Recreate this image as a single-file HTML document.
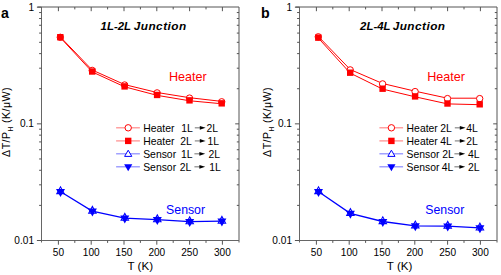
<!DOCTYPE html><html><head><meta charset="utf-8"><style>html,body{margin:0;padding:0;background:#fff;width:501px;height:275px;overflow:hidden}svg{display:block}text{font-family:"Liberation Sans", sans-serif}</style></head><body>
<svg width="501" height="275" viewBox="0 0 501 275">
<rect width="501" height="275" fill="#fff"/>
<g fill="none" stroke-width="1">
<line x1="37.5" y1="7.0" x2="239.0" y2="7.0" stroke="#555"/>
<line x1="239.0" y1="7.0" x2="239.0" y2="242.5" stroke="#555"/>
<line x1="41.5" y1="7.0" x2="41.5" y2="242.5" stroke="#666"/>
<line x1="37.5" y1="240.5" x2="239.0" y2="240.5" stroke="#666"/>
<line x1="58.40" y1="240.5" x2="58.40" y2="244.7" stroke="#555"/>
<line x1="58.40" y1="7.0" x2="58.40" y2="11.2" stroke="#555"/>
<line x1="74.80" y1="240.5" x2="74.80" y2="242.9" stroke="#555"/>
<line x1="74.80" y1="7.0" x2="74.80" y2="9.4" stroke="#555"/>
<line x1="91.20" y1="240.5" x2="91.20" y2="244.7" stroke="#555"/>
<line x1="91.20" y1="7.0" x2="91.20" y2="11.2" stroke="#555"/>
<line x1="107.60" y1="240.5" x2="107.60" y2="242.9" stroke="#555"/>
<line x1="107.60" y1="7.0" x2="107.60" y2="9.4" stroke="#555"/>
<line x1="124.00" y1="240.5" x2="124.00" y2="244.7" stroke="#555"/>
<line x1="124.00" y1="7.0" x2="124.00" y2="11.2" stroke="#555"/>
<line x1="140.40" y1="240.5" x2="140.40" y2="242.9" stroke="#555"/>
<line x1="140.40" y1="7.0" x2="140.40" y2="9.4" stroke="#555"/>
<line x1="156.80" y1="240.5" x2="156.80" y2="244.7" stroke="#555"/>
<line x1="156.80" y1="7.0" x2="156.80" y2="11.2" stroke="#555"/>
<line x1="173.20" y1="240.5" x2="173.20" y2="242.9" stroke="#555"/>
<line x1="173.20" y1="7.0" x2="173.20" y2="9.4" stroke="#555"/>
<line x1="189.60" y1="240.5" x2="189.60" y2="244.7" stroke="#555"/>
<line x1="189.60" y1="7.0" x2="189.60" y2="11.2" stroke="#555"/>
<line x1="206.00" y1="240.5" x2="206.00" y2="242.9" stroke="#555"/>
<line x1="206.00" y1="7.0" x2="206.00" y2="9.4" stroke="#555"/>
<line x1="222.40" y1="240.5" x2="222.40" y2="244.7" stroke="#555"/>
<line x1="222.40" y1="7.0" x2="222.40" y2="11.2" stroke="#555"/>
<line x1="41.5" y1="240.50" x2="36.9" y2="240.50" stroke="#555"/>
<line x1="41.5" y1="205.38" x2="39.1" y2="205.38" stroke="#555"/>
<line x1="239.0" y1="205.38" x2="236.8" y2="205.38" stroke="#555"/>
<line x1="41.5" y1="184.84" x2="39.1" y2="184.84" stroke="#555"/>
<line x1="239.0" y1="184.84" x2="236.8" y2="184.84" stroke="#555"/>
<line x1="41.5" y1="170.27" x2="39.1" y2="170.27" stroke="#555"/>
<line x1="239.0" y1="170.27" x2="236.8" y2="170.27" stroke="#555"/>
<line x1="41.5" y1="158.97" x2="39.1" y2="158.97" stroke="#555"/>
<line x1="239.0" y1="158.97" x2="236.8" y2="158.97" stroke="#555"/>
<line x1="41.5" y1="149.73" x2="39.1" y2="149.73" stroke="#555"/>
<line x1="239.0" y1="149.73" x2="236.8" y2="149.73" stroke="#555"/>
<line x1="41.5" y1="141.92" x2="39.1" y2="141.92" stroke="#555"/>
<line x1="239.0" y1="141.92" x2="236.8" y2="141.92" stroke="#555"/>
<line x1="41.5" y1="135.15" x2="39.1" y2="135.15" stroke="#555"/>
<line x1="239.0" y1="135.15" x2="236.8" y2="135.15" stroke="#555"/>
<line x1="41.5" y1="129.19" x2="39.1" y2="129.19" stroke="#555"/>
<line x1="239.0" y1="129.19" x2="236.8" y2="129.19" stroke="#555"/>
<line x1="41.5" y1="123.85" x2="36.9" y2="123.85" stroke="#555"/>
<line x1="239.0" y1="123.85" x2="235.2" y2="123.85" stroke="#555"/>
<line x1="41.5" y1="88.73" x2="39.1" y2="88.73" stroke="#555"/>
<line x1="239.0" y1="88.73" x2="236.8" y2="88.73" stroke="#555"/>
<line x1="41.5" y1="68.19" x2="39.1" y2="68.19" stroke="#555"/>
<line x1="239.0" y1="68.19" x2="236.8" y2="68.19" stroke="#555"/>
<line x1="41.5" y1="53.62" x2="39.1" y2="53.62" stroke="#555"/>
<line x1="239.0" y1="53.62" x2="236.8" y2="53.62" stroke="#555"/>
<line x1="41.5" y1="42.32" x2="39.1" y2="42.32" stroke="#555"/>
<line x1="239.0" y1="42.32" x2="236.8" y2="42.32" stroke="#555"/>
<line x1="41.5" y1="33.08" x2="39.1" y2="33.08" stroke="#555"/>
<line x1="239.0" y1="33.08" x2="236.8" y2="33.08" stroke="#555"/>
<line x1="41.5" y1="25.27" x2="39.1" y2="25.27" stroke="#555"/>
<line x1="239.0" y1="25.27" x2="236.8" y2="25.27" stroke="#555"/>
<line x1="41.5" y1="18.50" x2="39.1" y2="18.50" stroke="#555"/>
<line x1="239.0" y1="18.50" x2="236.8" y2="18.50" stroke="#555"/>
<line x1="41.5" y1="12.54" x2="39.1" y2="12.54" stroke="#555"/>
<line x1="239.0" y1="12.54" x2="236.8" y2="12.54" stroke="#555"/>
<line x1="41.5" y1="7.20" x2="36.9" y2="7.20" stroke="#555"/>
</g>
<g font-size="10.1" fill="#000">
<text x="58.40" y="256.2" text-anchor="middle">50</text>
<text x="91.20" y="256.2" text-anchor="middle">100</text>
<text x="124.00" y="256.2" text-anchor="middle">150</text>
<text x="156.80" y="256.2" text-anchor="middle">200</text>
<text x="189.60" y="256.2" text-anchor="middle">250</text>
<text x="222.40" y="256.2" text-anchor="middle">300</text>
<text x="34.00" y="10.80" text-anchor="end">1</text>
<text x="34.00" y="127.45" text-anchor="end">0.1</text>
<text x="34.00" y="244.10" text-anchor="end">0.01</text>
</g>
<text x="140.30" y="270.2" font-size="11.6" text-anchor="middle">T (K)</text>
<text transform="translate(10.20,122.0) rotate(-90)" font-size="10.6" letter-spacing="0.45" text-anchor="middle">ΔT/P<tspan font-size="6.5" dy="2.6">H</tspan><tspan dy="-2.6"> (K/μW)</tspan></text>
<text x="1.00" y="17.6" font-size="14.2" font-weight="bold">a</text>
<text x="100.60" y="29.7" font-size="11.4" font-weight="bold" font-style="italic">1L-2L</text>
<text x="133.80" y="29.7" font-size="11.8" letter-spacing="0.45" font-weight="bold" font-style="italic">Junction</text>
<polyline points="60.30,36.90 92.20,70.00 124.60,84.60 157.10,92.50 189.50,97.70 221.70,101.40" fill="none" stroke="#ff0000" stroke-width="1.0"/>
<polyline points="60.30,37.60 92.20,71.90 124.60,86.80 157.10,95.35 189.50,100.75 221.70,103.75" fill="none" stroke="#ff0000" stroke-width="1.0"/>
<polyline points="60.30,191.50 92.20,211.10 124.60,218.10 157.10,219.70 189.50,221.60 221.70,221.10" fill="none" stroke="#0000ff" stroke-width="1.3"/>
<circle cx="60.30" cy="37.30" r="3.2" fill="#fff" stroke="#ff0000" stroke-width="1.0"/>
<circle cx="92.20" cy="70.40" r="3.2" fill="#fff" stroke="#ff0000" stroke-width="1.0"/>
<circle cx="124.60" cy="85.00" r="3.2" fill="#fff" stroke="#ff0000" stroke-width="1.0"/>
<circle cx="157.10" cy="92.90" r="3.2" fill="#fff" stroke="#ff0000" stroke-width="1.0"/>
<circle cx="189.50" cy="98.10" r="3.2" fill="#fff" stroke="#ff0000" stroke-width="1.0"/>
<circle cx="221.70" cy="101.80" r="3.2" fill="#fff" stroke="#ff0000" stroke-width="1.0"/>
<rect x="57.10" y="34.00" width="6.4" height="6.4" fill="#ff0000"/>
<rect x="89.00" y="68.30" width="6.4" height="6.4" fill="#ff0000"/>
<rect x="121.40" y="83.20" width="6.4" height="6.4" fill="#ff0000"/>
<rect x="153.90" y="91.75" width="6.4" height="6.4" fill="#ff0000"/>
<rect x="186.30" y="97.15" width="6.4" height="6.4" fill="#ff0000"/>
<rect x="218.50" y="100.15" width="6.4" height="6.4" fill="#ff0000"/>
<polygon points="56.80,193.60 64.20,193.60 60.50,186.80" fill="#fff" stroke="#0000ff" stroke-width="1.1" stroke-linejoin="miter"/>
<polygon points="56.00,188.90 65.00,188.90 60.50,196.90" fill="#0000ff"/>
<polygon points="88.70,213.20 96.10,213.20 92.40,206.40" fill="#fff" stroke="#0000ff" stroke-width="1.1" stroke-linejoin="miter"/>
<polygon points="87.90,208.50 96.90,208.50 92.40,216.50" fill="#0000ff"/>
<polygon points="121.10,220.20 128.50,220.20 124.80,213.40" fill="#fff" stroke="#0000ff" stroke-width="1.1" stroke-linejoin="miter"/>
<polygon points="120.30,215.50 129.30,215.50 124.80,223.50" fill="#0000ff"/>
<polygon points="153.60,221.80 161.00,221.80 157.30,215.00" fill="#fff" stroke="#0000ff" stroke-width="1.1" stroke-linejoin="miter"/>
<polygon points="152.80,217.10 161.80,217.10 157.30,225.10" fill="#0000ff"/>
<polygon points="186.00,223.70 193.40,223.70 189.70,216.90" fill="#fff" stroke="#0000ff" stroke-width="1.1" stroke-linejoin="miter"/>
<polygon points="185.20,219.00 194.20,219.00 189.70,227.00" fill="#0000ff"/>
<polygon points="218.20,223.20 225.60,223.20 221.90,216.40" fill="#fff" stroke="#0000ff" stroke-width="1.1" stroke-linejoin="miter"/>
<polygon points="217.40,218.50 226.40,218.50 221.90,226.50" fill="#0000ff"/>
<text x="169.00" y="81.20" font-size="12.6" fill="#ff0000">Heater</text>
<text x="166.10" y="213.90" font-size="12.3" fill="#0000ff">Sensor</text>
<line x1="116.1" y1="127.8" x2="139.9" y2="127.8" stroke="#ff8a8a" stroke-width="1.2"/>
<circle cx="128.2" cy="127.8" r="3.2" fill="#fff" stroke="#ff0000" stroke-width="1.0"/>
<g font-size="10.4" fill="#000"><text x="143.20" y="131.70">Heater</text>
<text x="181.20" y="131.70">1L</text><text x="206.60" y="131.70">2L</text></g>
<line x1="194.80" y1="127.80" x2="200.80" y2="127.80" stroke="#888" stroke-width="1.2"/>
<polygon points="199.80,125.90 205.60,127.80 199.80,129.70" fill="#000"/>
<line x1="116.1" y1="140.9" x2="139.9" y2="140.9" stroke="#ff8a8a" stroke-width="1.2"/>
<rect x="125.00" y="137.70" width="6.4" height="6.4" fill="#ff0000"/>
<g font-size="10.4" fill="#000"><text x="143.20" y="144.80">Heater</text>
<text x="180.20" y="144.80">2L</text><text x="207.60" y="144.80">1L</text></g>
<line x1="194.80" y1="140.90" x2="200.80" y2="140.90" stroke="#888" stroke-width="1.2"/>
<polygon points="199.80,139.00 205.60,140.90 199.80,142.80" fill="#000"/>
<line x1="116.1" y1="153.8" x2="139.9" y2="153.8" stroke="#8a8aff" stroke-width="1.2"/>
<polygon points="124.60,156.40 131.80,156.40 128.20,150.20" fill="#fff" stroke="#0000ff" stroke-width="1.0"/>
<g font-size="10.4" fill="#000"><text x="143.20" y="157.70">Sensor</text>
<text x="181.00" y="157.70">1L</text><text x="208.40" y="157.70">2L</text></g>
<line x1="194.40" y1="153.80" x2="200.40" y2="153.80" stroke="#888" stroke-width="1.2"/>
<polygon points="199.40,151.90 205.20,153.80 199.40,155.70" fill="#000"/>
<line x1="116.1" y1="166.8" x2="139.9" y2="166.8" stroke="#8a8aff" stroke-width="1.2"/>
<polygon points="124.10,164.20 132.30,164.20 128.20,171.20" fill="#0000ff"/>
<g font-size="10.4" fill="#000"><text x="143.20" y="170.70">Sensor</text>
<text x="179.80" y="170.70">2L</text><text x="209.20" y="170.70">1L</text></g>
<line x1="194.40" y1="166.80" x2="200.40" y2="166.80" stroke="#888" stroke-width="1.2"/>
<polygon points="199.40,164.90 205.20,166.80 199.40,168.70" fill="#000"/>
<g fill="none" stroke-width="1">
<line x1="295.5" y1="7.0" x2="497.0" y2="7.0" stroke="#555"/>
<line x1="497.0" y1="7.0" x2="497.0" y2="242.5" stroke="#555"/>
<line x1="299.5" y1="7.0" x2="299.5" y2="242.5" stroke="#666"/>
<line x1="295.5" y1="240.5" x2="497.0" y2="240.5" stroke="#666"/>
<line x1="316.40" y1="240.5" x2="316.40" y2="244.7" stroke="#555"/>
<line x1="316.40" y1="7.0" x2="316.40" y2="11.2" stroke="#555"/>
<line x1="332.80" y1="240.5" x2="332.80" y2="242.9" stroke="#555"/>
<line x1="332.80" y1="7.0" x2="332.80" y2="9.4" stroke="#555"/>
<line x1="349.20" y1="240.5" x2="349.20" y2="244.7" stroke="#555"/>
<line x1="349.20" y1="7.0" x2="349.20" y2="11.2" stroke="#555"/>
<line x1="365.60" y1="240.5" x2="365.60" y2="242.9" stroke="#555"/>
<line x1="365.60" y1="7.0" x2="365.60" y2="9.4" stroke="#555"/>
<line x1="382.00" y1="240.5" x2="382.00" y2="244.7" stroke="#555"/>
<line x1="382.00" y1="7.0" x2="382.00" y2="11.2" stroke="#555"/>
<line x1="398.40" y1="240.5" x2="398.40" y2="242.9" stroke="#555"/>
<line x1="398.40" y1="7.0" x2="398.40" y2="9.4" stroke="#555"/>
<line x1="414.80" y1="240.5" x2="414.80" y2="244.7" stroke="#555"/>
<line x1="414.80" y1="7.0" x2="414.80" y2="11.2" stroke="#555"/>
<line x1="431.20" y1="240.5" x2="431.20" y2="242.9" stroke="#555"/>
<line x1="431.20" y1="7.0" x2="431.20" y2="9.4" stroke="#555"/>
<line x1="447.60" y1="240.5" x2="447.60" y2="244.7" stroke="#555"/>
<line x1="447.60" y1="7.0" x2="447.60" y2="11.2" stroke="#555"/>
<line x1="464.00" y1="240.5" x2="464.00" y2="242.9" stroke="#555"/>
<line x1="464.00" y1="7.0" x2="464.00" y2="9.4" stroke="#555"/>
<line x1="480.40" y1="240.5" x2="480.40" y2="244.7" stroke="#555"/>
<line x1="480.40" y1="7.0" x2="480.40" y2="11.2" stroke="#555"/>
<line x1="299.5" y1="240.50" x2="294.9" y2="240.50" stroke="#555"/>
<line x1="299.5" y1="205.38" x2="297.1" y2="205.38" stroke="#555"/>
<line x1="497.0" y1="205.38" x2="494.8" y2="205.38" stroke="#555"/>
<line x1="299.5" y1="184.84" x2="297.1" y2="184.84" stroke="#555"/>
<line x1="497.0" y1="184.84" x2="494.8" y2="184.84" stroke="#555"/>
<line x1="299.5" y1="170.27" x2="297.1" y2="170.27" stroke="#555"/>
<line x1="497.0" y1="170.27" x2="494.8" y2="170.27" stroke="#555"/>
<line x1="299.5" y1="158.97" x2="297.1" y2="158.97" stroke="#555"/>
<line x1="497.0" y1="158.97" x2="494.8" y2="158.97" stroke="#555"/>
<line x1="299.5" y1="149.73" x2="297.1" y2="149.73" stroke="#555"/>
<line x1="497.0" y1="149.73" x2="494.8" y2="149.73" stroke="#555"/>
<line x1="299.5" y1="141.92" x2="297.1" y2="141.92" stroke="#555"/>
<line x1="497.0" y1="141.92" x2="494.8" y2="141.92" stroke="#555"/>
<line x1="299.5" y1="135.15" x2="297.1" y2="135.15" stroke="#555"/>
<line x1="497.0" y1="135.15" x2="494.8" y2="135.15" stroke="#555"/>
<line x1="299.5" y1="129.19" x2="297.1" y2="129.19" stroke="#555"/>
<line x1="497.0" y1="129.19" x2="494.8" y2="129.19" stroke="#555"/>
<line x1="299.5" y1="123.85" x2="294.9" y2="123.85" stroke="#555"/>
<line x1="497.0" y1="123.85" x2="493.2" y2="123.85" stroke="#555"/>
<line x1="299.5" y1="88.73" x2="297.1" y2="88.73" stroke="#555"/>
<line x1="497.0" y1="88.73" x2="494.8" y2="88.73" stroke="#555"/>
<line x1="299.5" y1="68.19" x2="297.1" y2="68.19" stroke="#555"/>
<line x1="497.0" y1="68.19" x2="494.8" y2="68.19" stroke="#555"/>
<line x1="299.5" y1="53.62" x2="297.1" y2="53.62" stroke="#555"/>
<line x1="497.0" y1="53.62" x2="494.8" y2="53.62" stroke="#555"/>
<line x1="299.5" y1="42.32" x2="297.1" y2="42.32" stroke="#555"/>
<line x1="497.0" y1="42.32" x2="494.8" y2="42.32" stroke="#555"/>
<line x1="299.5" y1="33.08" x2="297.1" y2="33.08" stroke="#555"/>
<line x1="497.0" y1="33.08" x2="494.8" y2="33.08" stroke="#555"/>
<line x1="299.5" y1="25.27" x2="297.1" y2="25.27" stroke="#555"/>
<line x1="497.0" y1="25.27" x2="494.8" y2="25.27" stroke="#555"/>
<line x1="299.5" y1="18.50" x2="297.1" y2="18.50" stroke="#555"/>
<line x1="497.0" y1="18.50" x2="494.8" y2="18.50" stroke="#555"/>
<line x1="299.5" y1="12.54" x2="297.1" y2="12.54" stroke="#555"/>
<line x1="497.0" y1="12.54" x2="494.8" y2="12.54" stroke="#555"/>
<line x1="299.5" y1="7.20" x2="294.9" y2="7.20" stroke="#555"/>
</g>
<g font-size="10.1" fill="#000">
<text x="316.40" y="256.2" text-anchor="middle">50</text>
<text x="349.20" y="256.2" text-anchor="middle">100</text>
<text x="382.00" y="256.2" text-anchor="middle">150</text>
<text x="414.80" y="256.2" text-anchor="middle">200</text>
<text x="447.60" y="256.2" text-anchor="middle">250</text>
<text x="480.40" y="256.2" text-anchor="middle">300</text>
<text x="292.00" y="10.80" text-anchor="end">1</text>
<text x="292.00" y="127.45" text-anchor="end">0.1</text>
<text x="292.00" y="244.10" text-anchor="end">0.01</text>
</g>
<text x="399.60" y="270.2" font-size="11.6" text-anchor="middle">T (K)</text>
<text transform="translate(271.20,122.0) rotate(-90)" font-size="10.6" letter-spacing="0.45" text-anchor="middle">ΔT/P<tspan font-size="6.5" dy="2.6">H</tspan><tspan dy="-2.6"> (K/μW)</tspan></text>
<text x="261.00" y="17.6" font-size="14.2" font-weight="bold">b</text>
<text x="360.10" y="29.7" font-size="11.4" font-weight="bold" font-style="italic">2L-4L</text>
<text x="392.70" y="29.7" font-size="11.8" letter-spacing="0.45" font-weight="bold" font-style="italic">Junction</text>
<polyline points="318.30,36.40 350.20,69.50 382.60,83.50 415.10,91.20 447.50,98.20 479.70,98.20" fill="none" stroke="#ff0000" stroke-width="1.0"/>
<polyline points="318.30,38.05 350.20,73.10 382.60,89.10 415.10,96.80 447.50,103.90 479.70,104.70" fill="none" stroke="#ff0000" stroke-width="1.0"/>
<polyline points="318.30,191.50 350.20,213.30 382.60,221.50 415.10,225.80 447.50,226.10 479.70,227.90" fill="none" stroke="#0000ff" stroke-width="1.3"/>
<circle cx="318.30" cy="36.80" r="3.2" fill="#fff" stroke="#ff0000" stroke-width="1.0"/>
<circle cx="350.20" cy="69.90" r="3.2" fill="#fff" stroke="#ff0000" stroke-width="1.0"/>
<circle cx="382.60" cy="83.90" r="3.2" fill="#fff" stroke="#ff0000" stroke-width="1.0"/>
<circle cx="415.10" cy="91.60" r="3.2" fill="#fff" stroke="#ff0000" stroke-width="1.0"/>
<circle cx="447.50" cy="98.60" r="3.2" fill="#fff" stroke="#ff0000" stroke-width="1.0"/>
<circle cx="479.70" cy="98.60" r="3.2" fill="#fff" stroke="#ff0000" stroke-width="1.0"/>
<rect x="315.10" y="34.45" width="6.4" height="6.4" fill="#ff0000"/>
<rect x="347.00" y="69.50" width="6.4" height="6.4" fill="#ff0000"/>
<rect x="379.40" y="85.50" width="6.4" height="6.4" fill="#ff0000"/>
<rect x="411.90" y="93.20" width="6.4" height="6.4" fill="#ff0000"/>
<rect x="444.30" y="100.30" width="6.4" height="6.4" fill="#ff0000"/>
<rect x="476.50" y="101.10" width="6.4" height="6.4" fill="#ff0000"/>
<polygon points="314.80,193.60 322.20,193.60 318.50,186.80" fill="#fff" stroke="#0000ff" stroke-width="1.1" stroke-linejoin="miter"/>
<polygon points="314.00,188.90 323.00,188.90 318.50,196.90" fill="#0000ff"/>
<polygon points="346.70,215.40 354.10,215.40 350.40,208.60" fill="#fff" stroke="#0000ff" stroke-width="1.1" stroke-linejoin="miter"/>
<polygon points="345.90,210.70 354.90,210.70 350.40,218.70" fill="#0000ff"/>
<polygon points="379.10,223.60 386.50,223.60 382.80,216.80" fill="#fff" stroke="#0000ff" stroke-width="1.1" stroke-linejoin="miter"/>
<polygon points="378.30,218.90 387.30,218.90 382.80,226.90" fill="#0000ff"/>
<polygon points="411.60,227.90 419.00,227.90 415.30,221.10" fill="#fff" stroke="#0000ff" stroke-width="1.1" stroke-linejoin="miter"/>
<polygon points="410.80,223.20 419.80,223.20 415.30,231.20" fill="#0000ff"/>
<polygon points="444.00,228.20 451.40,228.20 447.70,221.40" fill="#fff" stroke="#0000ff" stroke-width="1.1" stroke-linejoin="miter"/>
<polygon points="443.20,223.50 452.20,223.50 447.70,231.50" fill="#0000ff"/>
<polygon points="476.20,230.00 483.60,230.00 479.90,223.20" fill="#fff" stroke="#0000ff" stroke-width="1.1" stroke-linejoin="miter"/>
<polygon points="475.40,225.30 484.40,225.30 479.90,233.30" fill="#0000ff"/>
<text x="427.20" y="80.60" font-size="12.6" fill="#ff0000">Heater</text>
<text x="425.30" y="214.30" font-size="12.3" fill="#0000ff">Sensor</text>
<line x1="379.4" y1="127.8" x2="403.1" y2="127.8" stroke="#ff8a8a" stroke-width="1.2"/>
<circle cx="391.4" cy="127.8" r="3.2" fill="#fff" stroke="#ff0000" stroke-width="1.0"/>
<g font-size="10.4" fill="#000"><text x="406.60" y="131.70">Heater</text>
<text x="440.20" y="131.70">2L</text><text x="466.20" y="131.70">4L</text></g>
<line x1="454.80" y1="127.80" x2="460.80" y2="127.80" stroke="#888" stroke-width="1.2"/>
<polygon points="459.80,125.90 465.60,127.80 459.80,129.70" fill="#000"/>
<line x1="379.4" y1="140.9" x2="403.1" y2="140.9" stroke="#ff8a8a" stroke-width="1.2"/>
<rect x="388.20" y="137.70" width="6.4" height="6.4" fill="#ff0000"/>
<g font-size="10.4" fill="#000"><text x="406.60" y="144.80">Heater</text>
<text x="440.20" y="144.80">4L</text><text x="466.20" y="144.80">2L</text></g>
<line x1="454.80" y1="140.90" x2="460.80" y2="140.90" stroke="#888" stroke-width="1.2"/>
<polygon points="459.80,139.00 465.60,140.90 459.80,142.80" fill="#000"/>
<line x1="379.4" y1="153.8" x2="403.1" y2="153.8" stroke="#8a8aff" stroke-width="1.2"/>
<polygon points="387.80,156.40 395.00,156.40 391.40,150.20" fill="#fff" stroke="#0000ff" stroke-width="1.0"/>
<g font-size="10.4" fill="#000"><text x="406.60" y="157.70">Sensor</text>
<text x="442.30" y="157.70">2L</text><text x="468.00" y="157.70">4L</text></g>
<line x1="454.40" y1="153.80" x2="460.40" y2="153.80" stroke="#888" stroke-width="1.2"/>
<polygon points="459.40,151.90 465.20,153.80 459.40,155.70" fill="#000"/>
<line x1="379.4" y1="166.8" x2="403.1" y2="166.8" stroke="#8a8aff" stroke-width="1.2"/>
<polygon points="387.30,164.20 395.50,164.20 391.40,171.20" fill="#0000ff"/>
<g font-size="10.4" fill="#000"><text x="406.60" y="170.70">Sensor</text>
<text x="441.80" y="170.70">4L</text><text x="468.00" y="170.70">2L</text></g>
<line x1="454.40" y1="166.80" x2="460.40" y2="166.80" stroke="#888" stroke-width="1.2"/>
<polygon points="459.40,164.90 465.20,166.80 459.40,168.70" fill="#000"/>
</svg></body></html>
